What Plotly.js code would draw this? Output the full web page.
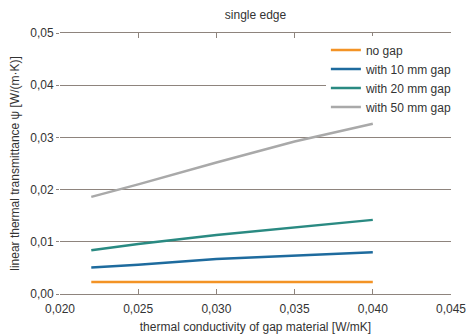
<!DOCTYPE html>
<html>
<head>
<meta charset="utf-8">
<script src="https://cdn.plot.ly/plotly-3.0.1.min.js"></script>
<style>html,body{margin:0;padding:0;background:#fff;}#chart{width:470px;height:334px;}</style>
</head>
<body>
<div id="chart"></div>
<script>
var conductivity = [0.022, 0.025, 0.030, 0.035, 0.040];
var seriesNames = ["no gap", "with 10 mm gap", "with 20 mm gap", "with 50 mm gap"];
var noGap = [0.0023, 0.0023, 0.0023, 0.0023, 0.0023];
var gap10 = [0.0051, 0.0056, 0.0067, 0.0074, 0.0080];
var gap20 = [0.0084, 0.0096, 0.0113, 0.0128, 0.0142];
var gap50 = [0.0186, 0.0210, 0.0252, 0.0292, 0.0326];
var colors = ["#f39325", "#1e6b9e", "#2a8a82", "#a9a9a9"];

var ys = [noGap, gap10, gap20, gap50];
var traces = ys.map(function (y, i) {
  return {
    x: conductivity, y: y, name: seriesNames[i], type: "scatter", mode: "lines",
    line: {color: colors[i], width: 2.5}
  };
});

var gridCol = "#8e847d";
var layout = {
  width: 470, height: 334,
  margin: {l: 60, r: 16, t: 33, b: 40},
  paper_bgcolor: "#ffffff", plot_bgcolor: "#ffffff",
  separators: ",.",
  font: {family: "Liberation Sans, Arial, sans-serif", size: 12, color: "#333333"},
  title: {text: "single edge", x: 0.5, xref: "paper", y: 1 - 15/334, yanchor: "middle",
          font: {size: 12, color: "#333333"}},
  xaxis: {
    range: [0.020, 0.045], tickvals: [0.020, 0.025, 0.030, 0.035, 0.040, 0.045],
    tickformat: ".3f", showgrid: false, zeroline: false,
    showline: true, linecolor: gridCol, linewidth: 1.3, mirror: "ticks",
    ticks: "inside", ticklen: 5, tickcolor: gridCol, tickwidth: 1,
    ticklabelstandoff: 3,
    tickfont: {size: 12, color: "#333333"},
    title: {text: "thermal conductivity of gap material [W/mK]", font: {size: 12, color: "#333333"}, standoff: 9}
  },
  yaxis: {
    range: [0, 0.05], tickvals: [0, 0.01, 0.02, 0.03, 0.04, 0.05],
    tickformat: ".2f", showgrid: true, gridcolor: gridCol, gridwidth: 1.3, zeroline: false,
    showline: false, ticks: "outside", ticklen: 3, tickcolor: gridCol,
    tickfont: {size: 12, color: "#333333"},
    title: {text: "linear thermal transmittance ψ [W/(m·K)]", font: {size: 12, color: "#333333"}, standoff: 8}
  },
  showlegend: true,
  legend: {x: 0.68, y: 0.99, xanchor: "left", yanchor: "top", bgcolor: "#ffffff",
           font: {size: 12, color: "#333333"}, tracegroupgap: 0, itemwidth: 30}
};

Plotly.newPlot("chart", traces, layout, {displayModeBar: false, staticPlot: true});
</script>
</body>
</html>
